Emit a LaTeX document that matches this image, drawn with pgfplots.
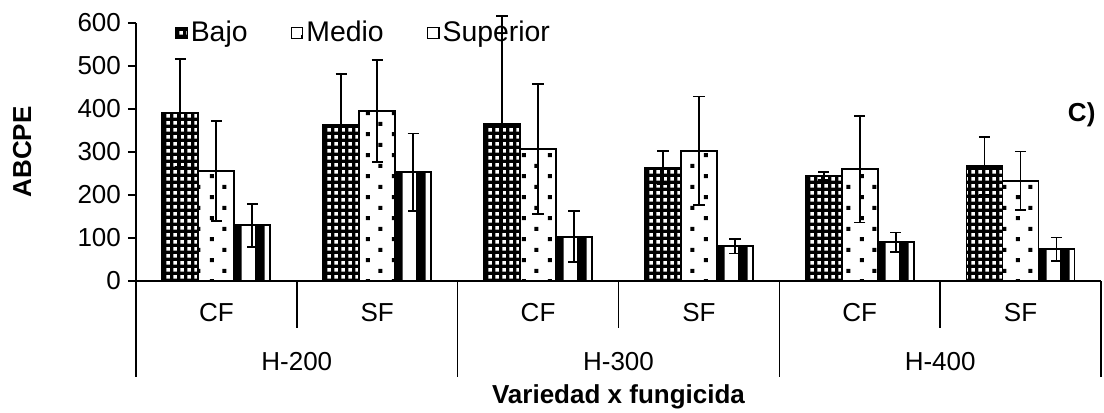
\documentclass[border=0pt]{standalone}
\usepackage{fontspec}
\setmainfont{Liberation Sans}
\usepackage{pgfplots}
\usepackage{pgfplotstable}
\pgfplotsset{compat=1.18}
\usetikzlibrary{patterns.meta}

\tikzdeclarepattern{
  name=wdots, type=uncolored,
  bottom left={(0pt,0pt)}, top right={(3.3pt,3.3pt)}, tile size={(3.3pt,3.3pt)},
  code={\fill (0.7pt,0.7pt) rectangle (2.6pt,2.6pt);}
}
\tikzdeclarepattern{
  name=medio, type=uncolored,
  bottom left={(0pt,0pt)}, top right={(13pt,10.6pt)}, tile size={(13pt,10.6pt)},
  code={\fill (1pt,1pt) rectangle (3pt,3pt);
        \fill (7.5pt,6.3pt) rectangle (9.5pt,8.3pt);}
}
\tikzdeclarepattern{
  name=superior, type=uncolored,
  bottom left={(0pt,0pt)}, top right={(11.6pt,60pt)}, tile size={(11.6pt,60pt)},
  code={\fill (0pt,0pt) rectangle (5pt,60pt);}
}

\pgfplotstableread{
x  b   eb  m   em  s   es
0  391 126 256 117 130 50
1  364 117 395 119 253 90
2  366 250 307 151 103 59
3  264 39  303 126 81  17
4  244 10  260 124 90  23
5  268 67  233 68  74  27
}\datatable

\pgfplotsset{
  mybar/.style={draw=black, line width=0.9pt,
    legend image code/.code={\draw[##1, line width=0.6pt] (0pt,-2.9pt) rectangle (5.8pt,2.9pt);}},
}

\begin{document}
\begin{tikzpicture}[font=\fontsize{13}{15.6}\selectfont]
\begin{axis}[
  scale only axis,
  width=482.5pt, height=129pt,
  xmin=-0.5, xmax=5.5, ymin=0, ymax=600,
  axis x line=bottom, axis y line=left,
  axis line style={-, line width=0.8pt},
  xtick=\empty,
  ytick={0,100,...,600},
  tick align=outside,
  major tick length=4pt,
  tick style={line width=0.8pt, black},
  /pgf/number format/assume math mode=true,
  every tick label/.append style={font=\fontsize{13}{15.6}\selectfont},
  yticklabel style={font=\fontsize{13}{15.6}\selectfont},
  ylabel={\bfseries ABCPE},
  ylabel style={at={(axis description cs:-0.118,0.5)}, anchor=center},
  ybar=0pt, bar width=18pt,
  clip=false,
  legend columns=3,
  legend style={draw=none, fill=none, at={(axis description cs:0.04,0.961)}, anchor=west,
    inner sep=0pt, font=\fontsize{14.2}{17}\selectfont,
    nodes={inner sep=1.5pt},
    /tikz/every even column/.append style={column sep=20pt}},
  legend cell align=left,
]
\addplot[fill=black, postaction={pattern=wdots, pattern color=white}, mybar,
  error bars/.cd, y dir=both, y explicit,
  error bar style={line width=0.9pt, black, solid},
  error mark options={rotate=90, black, line width=0.9pt, mark size=2.8pt}]
  table[x=x, y=b, y error=eb] {\datatable};
\addplot[pattern=medio, pattern color=black, mybar,
  error bars/.cd, y dir=both, y explicit,
  error bar style={line width=0.9pt, black, solid},
  error mark options={rotate=90, black, line width=0.9pt, mark size=2.8pt}]
  table[x=x, y=m, y error=em] {\datatable};
\addplot[pattern=superior, pattern color=black, mybar,
  error bars/.cd, y dir=both, y explicit,
  error bar style={line width=0.9pt, black, solid},
  error mark options={rotate=90, black, line width=0.9pt, mark size=2.8pt}]
  table[x=x, y=s, y error=es] {\datatable};
\legend{Bajo, Medio, Superior}

\draw[line width=0.8pt] (axis cs:-0.5,0) -- ([yshift=-48pt]axis cs:-0.5,0);
\draw[line width=0.8pt] (axis cs:1.5,0) -- ([yshift=-48pt]axis cs:1.5,0);
\draw[line width=0.8pt] (axis cs:3.5,0) -- ([yshift=-48pt]axis cs:3.5,0);
\draw[line width=0.8pt] (axis cs:5.5,0) -- ([yshift=-48pt]axis cs:5.5,0);
\draw[line width=0.8pt] (axis cs:0.5,0) -- ([yshift=-23.5pt]axis cs:0.5,0);
\draw[line width=0.8pt] (axis cs:2.5,0) -- ([yshift=-23.5pt]axis cs:2.5,0);
\draw[line width=0.8pt] (axis cs:4.5,0) -- ([yshift=-23.5pt]axis cs:4.5,0);
\node at ([yshift=-16pt]axis cs:0,0) {CF};
\node at ([yshift=-16pt]axis cs:1,0) {SF};
\node at ([yshift=-16pt]axis cs:2,0) {CF};
\node at ([yshift=-16pt]axis cs:3,0) {SF};
\node at ([yshift=-16pt]axis cs:4,0) {CF};
\node at ([yshift=-16pt]axis cs:5,0) {SF};
\node at ([yshift=-40.5pt]axis cs:0.5,0) {H-200};
\node at ([yshift=-40.5pt]axis cs:2.5,0) {H-300};
\node at ([yshift=-40.5pt]axis cs:4.5,0) {H-400};
\node[font=\fontsize{13}{15.6}\selectfont\bfseries] at ([yshift=-58pt]axis description cs:0.5,0) {Variedad x fungicida};
\node[font=\fontsize{13}{15.6}\selectfont\bfseries] at (axis description cs:0.980,0.643) {C)};
\coordinate (bbsw) at (axis description cs:-0.1409,-0.5078);
\coordinate (bbne) at (axis description cs:1.0031,1.0891);
\end{axis}
\pgfresetboundingbox
\useasboundingbox (bbsw) rectangle (bbne);
\end{tikzpicture}
\end{document}
